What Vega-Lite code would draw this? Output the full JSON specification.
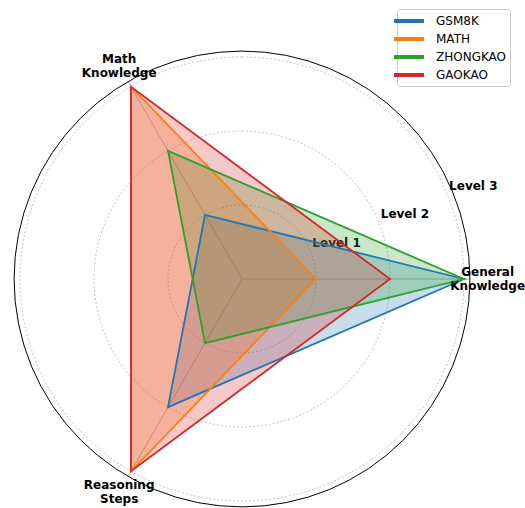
{
  "$schema": "https://vega.github.io/schema/vega-lite/v6.json",
  "width": 458,
  "height": 458,
  "autosize": {"type": "none"},
  "padding": {"left": 13, "top": 50, "right": 54, "bottom": 0},
  "config": {"font": "DejaVu Sans", "view": {"stroke": null}},
  "datasets": {
    "scores": [
      {"series": "GSM8K", "axis": "General Knowledge", "i": 0, "v": 3},
      {"series": "GSM8K", "axis": "Math Knowledge", "i": 1, "v": 1},
      {"series": "GSM8K", "axis": "Reasoning Steps", "i": 2, "v": 2},
      {"series": "MATH", "axis": "General Knowledge", "i": 0, "v": 1},
      {"series": "MATH", "axis": "Math Knowledge", "i": 1, "v": 3},
      {"series": "MATH", "axis": "Reasoning Steps", "i": 2, "v": 3},
      {"series": "ZHONGKAO", "axis": "General Knowledge", "i": 0, "v": 3},
      {"series": "ZHONGKAO", "axis": "Math Knowledge", "i": 1, "v": 2},
      {"series": "ZHONGKAO", "axis": "Reasoning Steps", "i": 2, "v": 1},
      {"series": "GAOKAO", "axis": "General Knowledge", "i": 0, "v": 2},
      {"series": "GAOKAO", "axis": "Math Knowledge", "i": 1, "v": 3},
      {"series": "GAOKAO", "axis": "Reasoning Steps", "i": 2, "v": 3}
    ],
    "axes": [
      {"axis": "General\nKnowledge", "i": 0},
      {"axis": "Math\nKnowledge", "i": 1},
      {"axis": "Reasoning\nSteps", "i": 2}
    ],
    "levels": [
      {"v": 1, "label": "Level 1"},
      {"v": 2, "label": "Level 2"},
      {"v": 3, "label": "Level 3"}
    ]
  },
  "layer": [
    {
      "data": {"name": "levels"},
      "mark": {"type": "arc", "filled": false, "stroke": "#b0b0b0", "strokeWidth": 0.8, "strokeDash": [2, 2], "theta": 0, "theta2": 6.2832},
      "encoding": {
        "radius": {"field": "v", "type": "quantitative", "stack": null, "scale": {"type": "linear", "domain": [0, 3.0946], "range": [0, 229], "zero": true}}
      }
    },
    {
      "data": {"name": "axes"},
      "transform": [
        {"calculate": "0", "as": "x0"},
        {"calculate": "0", "as": "y0"},
        {"calculate": "3.08*cos(datum.i*2*PI/3)", "as": "x1"},
        {"calculate": "3.08*sin(datum.i*2*PI/3)", "as": "y1"}
      ],
      "mark": {"type": "rule", "color": "#b0b0b0", "strokeWidth": 0.9},
      "encoding": {
        "x": {"field": "x0", "type": "quantitative", "scale": {"domain": [-3.0946, 3.0946]}, "axis": null},
        "y": {"field": "y0", "type": "quantitative", "scale": {"domain": [-3.0946, 3.0946]}, "axis": null},
        "x2": {"field": "x1"},
        "y2": {"field": "y1"}
      }
    },
    {
      "data": {"values": [{}]},
      "mark": {"type": "arc", "filled": false, "stroke": "black", "strokeWidth": 1, "theta": 0, "theta2": 6.2832},
      "encoding": {
        "radius": {"datum": 3.08, "type": "quantitative", "stack": null, "scale": {"type": "linear", "domain": [0, 3.0946], "range": [0, 229], "zero": true}}
      }
    },
    {
      "data": {"name": "levels"},
      "transform": [
        {"calculate": "datum.v*cos(PI/8)", "as": "x"},
        {"calculate": "datum.v*sin(PI/8)", "as": "y"}
      ],
      "mark": {"type": "text", "align": "left", "baseline": "bottom", "dx": 2, "dy": -1, "fontSize": 12, "fontWeight": "bold", "color": "black"},
      "encoding": {
        "x": {"field": "x", "type": "quantitative", "scale": {"domain": [-3.0946, 3.0946]}, "axis": null},
        "y": {"field": "y", "type": "quantitative", "scale": {"domain": [-3.0946, 3.0946]}, "axis": null},
        "text": {"field": "label"}
      }
    },
    {
      "data": {"name": "scores"},
      "transform": [
        {"filter": "datum.series == 'GSM8K'"},
        {"calculate": "datum.v*cos(datum.i*2*PI/3)", "as": "x"},
        {"calculate": "datum.v*sin(datum.i*2*PI/3)", "as": "y"}
      ],
      "mark": {"type": "line", "interpolate": "linear-closed", "filled": true, "fill": "#1f77b4", "fillOpacity": 0.25, "strokeWidth": 0},
      "encoding": {
        "x": {"field": "x", "type": "quantitative", "scale": {"domain": [-3.0946, 3.0946]}, "axis": null},
        "y": {"field": "y", "type": "quantitative", "scale": {"domain": [-3.0946, 3.0946]}, "axis": null},
        "order": {"field": "i"}
      }
    },
    {
      "data": {"name": "scores"},
      "transform": [
        {"filter": "datum.series == 'MATH'"},
        {"calculate": "datum.v*cos(datum.i*2*PI/3)", "as": "x"},
        {"calculate": "datum.v*sin(datum.i*2*PI/3)", "as": "y"}
      ],
      "mark": {"type": "line", "interpolate": "linear-closed", "filled": true, "fill": "#ff7f0e", "fillOpacity": 0.25, "strokeWidth": 0},
      "encoding": {
        "x": {"field": "x", "type": "quantitative", "scale": {"domain": [-3.0946, 3.0946]}, "axis": null},
        "y": {"field": "y", "type": "quantitative", "scale": {"domain": [-3.0946, 3.0946]}, "axis": null},
        "order": {"field": "i"}
      }
    },
    {
      "data": {"name": "scores"},
      "transform": [
        {"filter": "datum.series == 'ZHONGKAO'"},
        {"calculate": "datum.v*cos(datum.i*2*PI/3)", "as": "x"},
        {"calculate": "datum.v*sin(datum.i*2*PI/3)", "as": "y"}
      ],
      "mark": {"type": "line", "interpolate": "linear-closed", "filled": true, "fill": "#2ca02c", "fillOpacity": 0.25, "strokeWidth": 0},
      "encoding": {
        "x": {"field": "x", "type": "quantitative", "scale": {"domain": [-3.0946, 3.0946]}, "axis": null},
        "y": {"field": "y", "type": "quantitative", "scale": {"domain": [-3.0946, 3.0946]}, "axis": null},
        "order": {"field": "i"}
      }
    },
    {
      "data": {"name": "scores"},
      "transform": [
        {"filter": "datum.series == 'GAOKAO'"},
        {"calculate": "datum.v*cos(datum.i*2*PI/3)", "as": "x"},
        {"calculate": "datum.v*sin(datum.i*2*PI/3)", "as": "y"}
      ],
      "mark": {"type": "line", "interpolate": "linear-closed", "filled": true, "fill": "#d62728", "fillOpacity": 0.25, "strokeWidth": 0},
      "encoding": {
        "x": {"field": "x", "type": "quantitative", "scale": {"domain": [-3.0946, 3.0946]}, "axis": null},
        "y": {"field": "y", "type": "quantitative", "scale": {"domain": [-3.0946, 3.0946]}, "axis": null},
        "order": {"field": "i"}
      }
    },
    {
      "data": {"name": "scores"},
      "transform": [
        {"calculate": "datum.v*cos(datum.i*2*PI/3)", "as": "x"},
        {"calculate": "datum.v*sin(datum.i*2*PI/3)", "as": "y"}
      ],
      "mark": {"type": "line", "interpolate": "linear-closed", "strokeWidth": 1.8},
      "encoding": {
        "x": {"field": "x", "type": "quantitative", "scale": {"domain": [-3.0946, 3.0946]}, "axis": null},
        "y": {"field": "y", "type": "quantitative", "scale": {"domain": [-3.0946, 3.0946]}, "axis": null},
        "order": {"field": "i"},
        "color": {
          "field": "series", "type": "nominal",
          "scale": {"domain": ["GSM8K", "MATH", "ZHONGKAO", "GAOKAO"], "range": ["#1f77b4", "#ff7f0e", "#2ca02c", "#d62728"]},
          "legend": {"title": null, "orient": "none", "legendX": 384, "legendY": -41, "symbolType": "M-2.14,0H2.14", "symbolStrokeWidth": 4, "symbolSize": 196, "labelFontSize": 12, "labelOffset": 18, "padding": 3, "fillColor": "white", "strokeColor": "#cccccc", "cornerRadius": 3, "rowPadding": 1}
        }
      }
    },
    {
      "data": {"name": "axes"},
      "transform": [
        {"calculate": "3.32*cos(datum.i*2*PI/3)", "as": "x"},
        {"calculate": "3.32*sin(datum.i*2*PI/3)", "as": "y"}
      ],
      "mark": {"type": "text", "align": "center", "baseline": "middle", "lineBreak": "\n", "lineHeight": 14, "dy": -7, "fontSize": 12, "fontWeight": "bold", "color": "black"},
      "encoding": {
        "x": {"field": "x", "type": "quantitative", "scale": {"domain": [-3.0946, 3.0946]}, "axis": null},
        "y": {"field": "y", "type": "quantitative", "scale": {"domain": [-3.0946, 3.0946]}, "axis": null},
        "text": {"field": "axis"}
      }
    }
  ]
}
